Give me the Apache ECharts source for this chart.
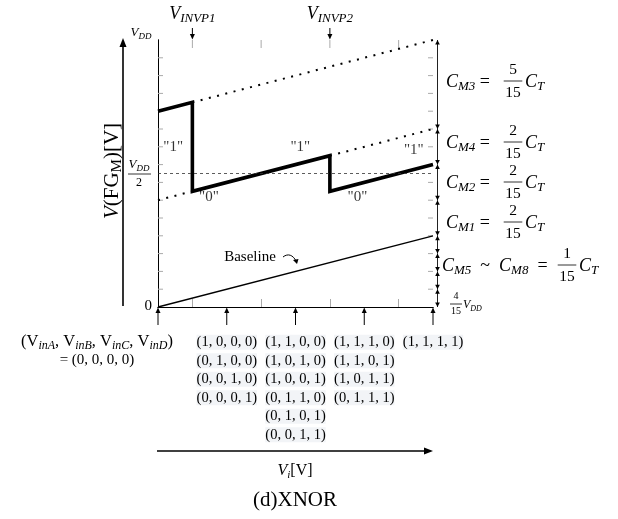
<!DOCTYPE html>
<html>
<head>
<meta charset="utf-8">
<script src="https://cdn.jsdelivr.net/npm/echarts@6/dist/echarts.min.js"></script>
<style>
html, body { margin: 0; padding: 0; background: #fff; }
#main { width: 618px; height: 519px; }
</style>
</head>
<body>
<div id="main"></div>
<script>
// x: number of high inputs (0..4), y: V(FG_M) in units of VDD/15
const xMarks = [0, 1, 2, 3, 4]
const halfTicks = [0.5, 1.5, 2.5, 3.5]
const yTicks = [1, 2, 3, 4, 5, 6, 7, 8, 9, 10, 11, 12, 13, 14]
const invpX = [0.5, 2.5]
const invpNames = ['INVP1', 'INVP2']
const baselineX = [0, 4]
const baselineY = [0, 4]
const curveX = [0, 0.5, 0.5, 2.5, 2.5, 4]
const curveY = [11, 11.5, 6.5, 8.5, 6.5, 8]
const dotsA_X = [0, 0.5], dotsA_Y = [6, 6.5]
const dotsB_X = [0.5, 4], dotsB_Y = [11.5, 15]
const dotsC_X = [2.5, 4], dotsC_Y = [8.5, 10]
const halfVdd = 7.5
const capLevels = [0, 1, 2, 3, 4, 6, 8, 10, 15]
const stateText = ['"1"', '"0"', '"1"', '"0"', '"1"']
const stateX = [0.22, 0.74, 2.07, 2.9, 3.72]
const stateY = [9.0, 6.15, 9.0, 6.15, 8.8]
const inputCols = {
  1: ['(1, 0, 0, 0)', '(0, 1, 0, 0)', '(0, 0, 1, 0)', '(0, 0, 0, 1)'],
  2: ['(1, 1, 0, 0)', '(1, 0, 1, 0)', '(1, 0, 0, 1)', '(0, 1, 1, 0)', '(0, 1, 0, 1)', '(0, 0, 1, 1)'],
  3: ['(1, 1, 1, 0)', '(1, 1, 0, 1)', '(1, 0, 1, 1)', '(0, 1, 1, 1)'],
  4: ['(1, 1, 1, 1)']
}

const SERIF = '"Liberation Serif", "Times New Roman", serif'

function richSet(size, subRatio) {
  const sub = Math.round(size * (subRatio || 0.7))
  return {
    r: {fontFamily: SERIF, fontSize: size, lineHeight: size + 4, color: '#000'},
    i: {fontFamily: SERIF, fontStyle: 'italic', fontSize: size, lineHeight: size + 4, color: '#000'},
    s: {fontFamily: SERIF, fontStyle: 'italic', fontSize: sub, lineHeight: sub, verticalAlign: 'bottom', color: '#000'},
    u: {fontFamily: SERIF, fontSize: sub, lineHeight: sub, verticalAlign: 'bottom', color: '#000'}
  }
}

function tx(x, y, text, size, align, rot, subRatio) {
  return {
    type: 'text', x: x, y: y, rotation: rot || 0, silent: true,
    style: {text: text, rich: richSet(size, subRatio), align: align || 'left', verticalAlign: 'middle',
      fontFamily: SERIF, fontSize: size, fill: '#000'}
  }
}

function hline(x1, x2, y, w) {
  return {type: 'line', silent: true, shape: {x1: x1, y1: y, x2: x2, y2: y}, style: {stroke: '#000', lineWidth: w || 0.8}}
}

// fraction: numerator / denominator centered at cx
function frac(cx, yc, num, den, size) {
  return [
    tx(cx, yc - size * 0.74, '{r|' + num + '}', size, 'center'),
    hline(cx - size * 0.6, cx + size * 0.6, yc),
    tx(cx, yc + size * 0.76, '{r|' + den + '}', size, 'center')
  ]
}

function capLabel(x, yc, head, fx, num, den) {
  return [
    tx(x, yc, head + '{r| = }', 18, 'left', 0, 0.72),
    ...frac(fx, yc - 1, num, den, 15.5),
    tx(fx + 12, yc, '{i|C}{s|T}', 18, 'left', 0, 0.72)
  ]
}

const graphics = [
  // vertical V axis arrow
  {type: 'line', silent: true, shape: {x1: 123, y1: 306, x2: 123, y2: 44}, style: {stroke: '#000', lineWidth: 1.6}},
  {type: 'polygon', silent: true, shape: {points: [[123, 38], [119.5, 47], [126.5, 47]]}, style: {fill: '#000'}},
  tx(112, 171, '{i|V}{r|(FG}{u|M}{r|)[V]}', 21, 'center', Math.PI / 2),
  tx(141, 33, '{i|V}{s|DD}', 13, 'center'),
  tx(139, 165, '{i|V}{s|DD}', 13, 'center'),
  hline(128, 151, 174),
  tx(139, 183, '{r|2}', 12, 'center'),
  tx(152, 306, '{r|0}', 15, 'right'),
  // baseline label with hook arrow
  tx(250, 257, '{r|Baseline}', 15, 'center'),
  {type: 'bezierCurve', silent: true, shape: {x1: 283, y1: 257, cpx1: 288, cpy1: 253, cpx2: 293, cpy2: 255, x2: 296, y2: 261},
    style: {stroke: '#000', lineWidth: 1, fill: null}},
  {type: 'polygon', silent: true, shape: {points: [[297, 264], [293, 260], [298.5, 259]]}, style: {fill: '#000'}},
  // right side capacitor labels
  ...capLabel(446, 82, '{i|C}{s|M3}', 513, '5', '15'),
  ...capLabel(446, 143, '{i|C}{s|M4}', 513, '2', '15'),
  ...capLabel(446, 183, '{i|C}{s|M2}', 513, '2', '15'),
  ...capLabel(446, 223, '{i|C}{s|M1}', 513, '2', '15'),
  ...capLabel(442, 266, '{i|C}{s|M5}{r|  ~  }{i|C}{s|M8}{r| }', 567, '1', '15'),
  ...frac(456, 304, '4', '15', 10),
  tx(463, 305, '{i|V}{s|DD}', 12, 'left'),
  // input tuple for x = 0
  tx(97, 342, '{r|(V}{s|inA}{r|, V}{s|inB}{r|, V}{s|inC}{r|, V}{s|inD}{r|)}', 16.5, 'center', 0, 0.74),
  tx(97, 360, '{r|= (0, 0, 0, 0)}', 15, 'center'),
  // horizontal Vi axis
  {type: 'line', silent: true, shape: {x1: 157, y1: 451, x2: 427, y2: 451}, style: {stroke: '#000', lineWidth: 1.4}},
  {type: 'polygon', silent: true, shape: {points: [[433, 451], [424, 447.5], [424, 454.5]]}, style: {fill: '#000'}},
  tx(295, 471, '{i|V}{s|i}{r|[V]}', 16, 'center'),
  tx(295, 500, '{r|(d)XNOR}', 21, 'center')
]

function arrowItem(params, api) {
  const p = api.coord([api.value(0), api.value(1)])
  const d = api.value(2)
  const x = p[0], y = p[1]
  const len = d > 0 ? 18 : 12
  return {type: 'group', children: [
    {type: 'line', shape: {x1: x, y1: y + d * len, x2: x, y2: y + d * 4}, style: {stroke: '#000', lineWidth: 1}},
    {type: 'polygon', shape: {points: [[x, y + d * 0.5], [x - 2.5, y + d * 6], [x + 2.5, y + d * 6]]}, style: {fill: '#000'}}
  ]}
}

function bracketItem(params, api) {
  const lo = api.coord([api.value(0), api.value(1)])
  const hi = api.coord([api.value(0), api.value(2)])
  const x = lo[0] + 4.5
  return {type: 'group', children: [
    {type: 'line', shape: {x1: x, y1: lo[1], x2: x, y2: hi[1]}, style: {stroke: '#222', lineWidth: 1}},
    {type: 'polygon', shape: {points: [[x, hi[1]], [x - 2.3, hi[1] + 4.5], [x + 2.3, hi[1] + 4.5]]}, style: {fill: '#000'}},
    {type: 'polygon', shape: {points: [[x, lo[1]], [x - 2.3, lo[1] - 4.5], [x + 2.3, lo[1] - 4.5]]}, style: {fill: '#000'}}
  ]}
}

// inner ticks of the frame: [x, y, dx px, dy px]
function tickItem(params, api) {
  const p = api.coord([api.value(0), api.value(1)])
  return {type: 'line', shape: {x1: p[0], y1: p[1], x2: p[0] + api.value(2), y2: p[1] + api.value(3)},
    style: {stroke: '#aaa', lineWidth: 1}}
}

const bracketData = []
for (let i = 0; i < capLevels.length - 1; i++) {
  bracketData.push([4, capLevels[i], capLevels[i + 1]])
}
const frameTicks = []
yTicks.forEach(v => { frameTicks.push([0, v, 5, 0]); frameTicks.push([4, v, -5, 0]) })
halfTicks.forEach(v => { frameTicks.push([v, 15, 0, 8]) })

const zip = (xs, ys) => xs.map((x, i) => [x, ys[i]])
const dotStyle = {color: '#000', width: 2, type: [2, 6.5]}

const option = {
  animation: false,
  grid: {left: 158, top: 40, width: 275, height: 267},
  xAxis: [
    {
      type: 'value', min: 0, max: 4, interval: 0.5, position: 'bottom',
      axisLine: {lineStyle: {color: '#000', width: 1.2}},
      axisTick: {inside: true, length: 8, customValues: halfTicks, lineStyle: {color: '#aaa'}},
      axisLabel: {
        customValues: [1, 2, 3, 4], margin: 26,
        formatter: v => inputCols[v].map(s => '{b|' + s + '}').join('\n'),
        rich: {b: {fontFamily: SERIF, fontSize: 14.5, lineHeight: 18.5, color: '#000', backgroundColor: '#f2f4f7'}}
      },
      splitLine: {show: false}
    },
    {
      type: 'value', min: 0, max: 4, interval: 0.5, position: 'top',
      axisLine: {lineStyle: {color: '#000', width: 1.2}},
      axisTick: {show: false},
      axisLabel: {
        customValues: invpX, margin: 15,
        formatter: v => '{i|V}{s|' + invpNames[invpX.indexOf(v)] + '}',
        rich: richSet(18)
      },
      splitLine: {show: false}
    }
  ],
  yAxis: [
    {
      type: 'value', min: 0, max: 15, interval: 1, position: 'left',
      axisLine: {show: true, lineStyle: {color: '#000', width: 1}},
      axisTick: {show: false},
      axisLabel: {show: false}, splitLine: {show: false}
    },
    {
      type: 'value', min: 0, max: 15, interval: 1, position: 'right',
      axisLine: {show: true, lineStyle: {color: '#000', width: 1}},
      axisTick: {show: false},
      axisLabel: {show: false}, splitLine: {show: false}
    }
  ],
  series: [
    {
      type: 'custom', silent: true, renderItem: tickItem,
      encode: {x: 0, y: 1},
      data: frameTicks
    },
    {
      type: 'line', data: zip(baselineX, baselineY), symbol: 'none',
      lineStyle: {color: '#000', width: 1.3},
      markLine: {
        silent: true, symbol: 'none', label: {show: false},
        lineStyle: {color: '#333', width: 0.8, type: [3, 3]},
        data: [{yAxis: halfVdd}]
      }
    },
    {type: 'line', data: zip(dotsA_X, dotsA_Y), symbol: 'none', lineStyle: dotStyle},
    {type: 'line', data: zip(dotsB_X, dotsB_Y), symbol: 'none', lineStyle: dotStyle},
    {type: 'line', data: zip(dotsC_X, dotsC_Y), symbol: 'none', lineStyle: dotStyle},
    {
      type: 'line', data: zip(curveX, curveY), symbol: 'none',
      lineStyle: {color: '#000', width: 3.6, join: 'miter'}
    },
    {
      type: 'scatter', symbolSize: 0, data: zip(stateX, stateY),
      label: {
        show: true, position: 'inside', color: '#000', fontFamily: SERIF, fontSize: 15,
        formatter: p => stateText[p.dataIndex]
      }
    },
    {
      type: 'custom', clip: false, silent: true, renderItem: arrowItem,
      encode: {x: 0, y: 1},
      data: xMarks.map(v => [v, 0, 1]).concat(invpX.map(v => [v, 15, -1]))
    },
    {
      type: 'custom', clip: false, silent: true, renderItem: bracketItem,
      encode: {x: 0, y: [1, 2]},
      data: bracketData
    }
  ],
  graphic: graphics
}

const myChart = echarts.init(document.getElementById('main'))
myChart.setOption(option)
</script>
</body>
</html>
